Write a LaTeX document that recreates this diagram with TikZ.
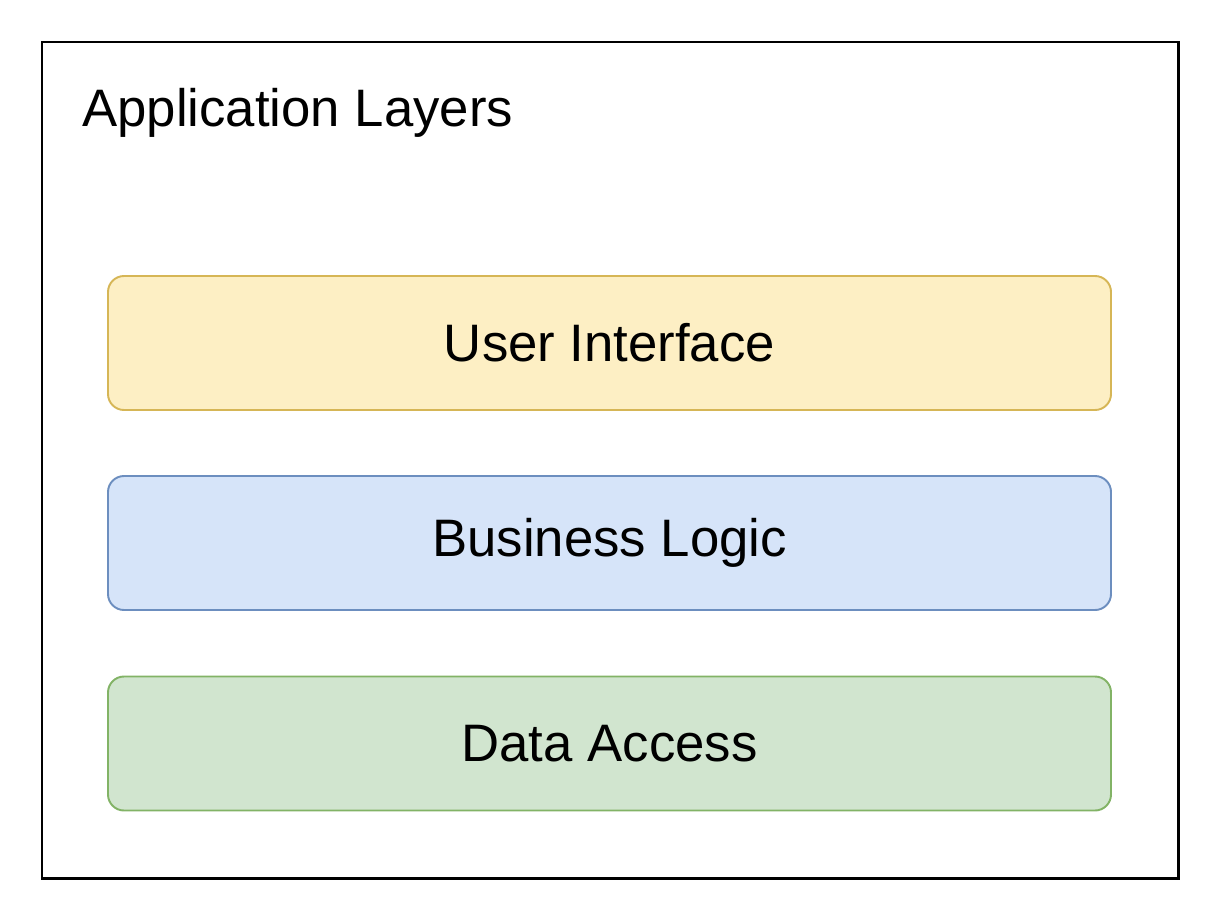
\documentclass[tikz,border=0pt]{standalone}
\usepackage{fontspec}
\setmainfont{Liberation Sans}
\usepackage{xcolor}

\definecolor{uifill}{HTML}{FDEFC4}
\definecolor{uidraw}{HTML}{D6B656}
\definecolor{blfill}{HTML}{D6E4F9}
\definecolor{bldraw}{HTML}{6C8EBF}
\definecolor{dafill}{HTML}{D1E5CF}
\definecolor{dadraw}{HTML}{82B366}

\tikzset{
    layer/.style={rectangle, rounded corners=0.32cm, line width=1.1pt, minimum width=20.06cm, minimum height=2.68cm, inner sep=0pt, font=\fontsize{30}{36}\selectfont}
}

\begin{document}
\begin{tikzpicture}
            \useasboundingbox (0, 0) rectangle (24.16, 18.2);
            \node[rectangle, draw=black, line width=1.7pt, minimum width=22.72cm, minimum height=16.72cm, inner sep=0pt] (app) at (12.2, 9) {};
            \node[anchor=base west, inner sep=0pt, font=\fontsize{30}{36}\selectfont] (title) at (1.64, 15.66) {Application Layers};

            \node[layer, draw=uidraw, fill=uifill] (ui) at (12.19, 11.34) {User Interface};
            \node[layer, draw=bldraw, fill=blfill] (bl) at (12.19, 7.34) {Business Logic};
            \node[layer, draw=dadraw, fill=dafill] (da) at (12.19, 3.33) {Data Access};
        \end{tikzpicture}
\end{document}
